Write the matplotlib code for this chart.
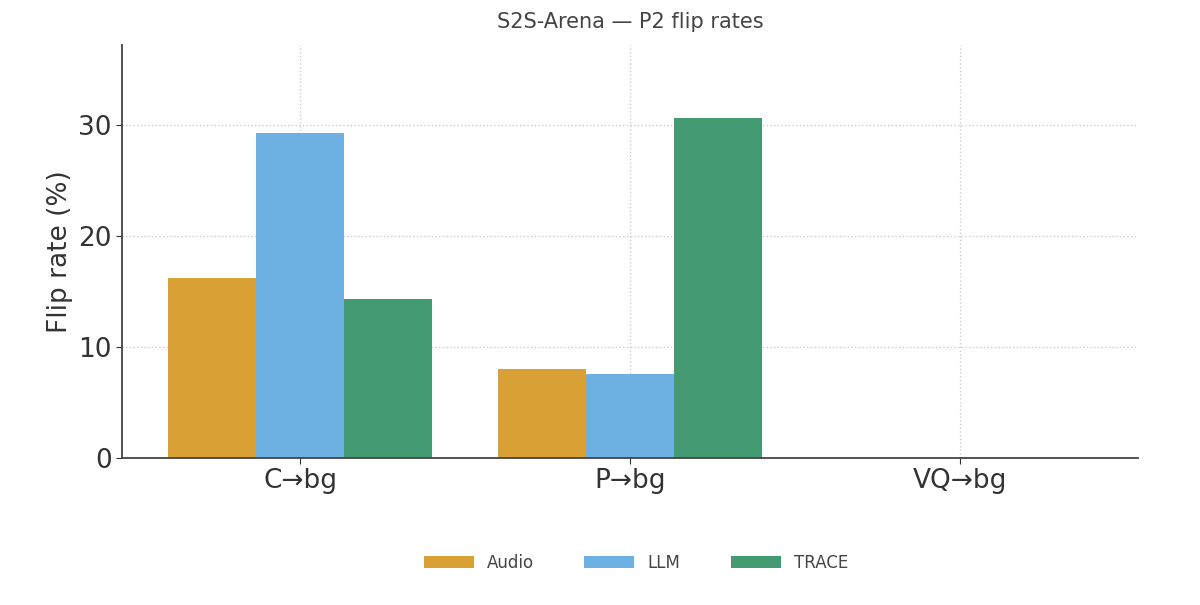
import matplotlib
matplotlib.use("Agg")
import matplotlib.pyplot as plt
import numpy as np

categories = ["C→bg", "P→bg", "VQ→bg"]
series = ["Audio", "LLM", "TRACE"]
audio = [16.2, 8.0, 0.0]
llm = [29.3, 7.6, 0.0]
trace = [14.3, 30.6, 0.0]
colors = ["#D9A036", "#6DB1E3", "#449A72"]

fig = plt.figure(figsize=(12, 6.05), dpi=100)
ax = fig.add_axes([0.102, 0.243, 0.846, 0.683])
x = np.arange(len(categories))
w = 0.267
for i, (vals, name, c) in enumerate(zip([audio, llm, trace], series, colors)):
    ax.bar(x + (i - 1) * w, vals, w, color=c, label=name, zorder=2)
ax.set_xlim(-0.54, 2.54)
ax.set_ylim(0, 37.2)
ax.set_yticks([0, 10, 20, 30])
ax.set_xticks(x)
ax.set_xticklabels(categories)
ax.tick_params(labelsize=19, colors="#333333", length=4)
ax.set_ylabel("Flip rate (%)", fontsize=19, color="#333333")
ax.set_title("S2S-Arena — P2 flip rates", fontsize=15, color="#444444", pad=12)
ax.grid(True, linestyle=":", color="#cccccc", linewidth=1, zorder=0)
for s in ["top", "right"]:
    ax.spines[s].set_visible(False)
for s in ["left", "bottom"]:
    ax.spines[s].set_color("#444444")
    ax.spines[s].set_linewidth(1.3)
fig.legend(loc="lower center", bbox_to_anchor=(0.53, 0.03), ncol=3, frameon=False,
           fontsize=12, handlelength=3, columnspacing=3, labelcolor="#444444")
fig.savefig("out.png", dpi=100)
